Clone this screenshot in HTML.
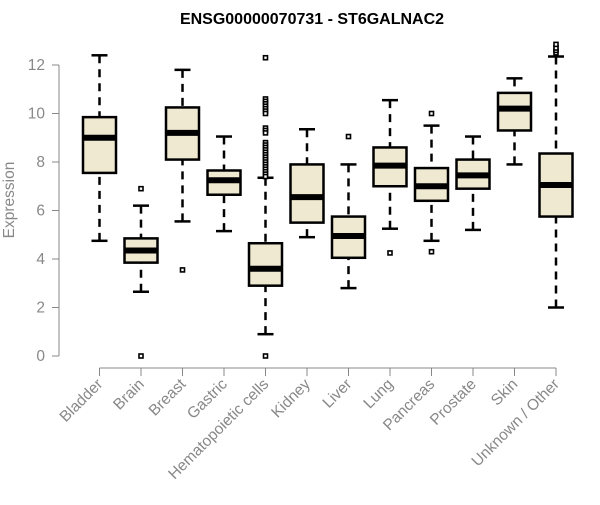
<!DOCTYPE html>
<html><head><meta charset="utf-8"><style>
body{margin:0;background:#fff}
svg text{font-family:"Liberation Sans",sans-serif}
</style></head><body>
<svg id="chart" width="600" height="500" xmlns="http://www.w3.org/2000/svg">
<text x="312" y="24" text-anchor="middle" font-weight="bold" font-size="16">ENSG00000070731 - ST6GALNAC2</text>
<text transform="translate(14,200) rotate(-90)" text-anchor="middle" font-size="15.5" fill="#888">Expression</text>
<g id="axes"></g><g id="plot"></g>
</svg>
<script>
const categories=["Bladder","Brain","Breast","Gastric","Hematopoietic cells","Kidney","Liver","Lung","Pancreas","Prostate","Skin","Unknown / Other"];
const whiskerLow=[4.75,2.65,5.55,5.15,0.9,4.9,2.8,5.25,4.75,5.2,7.9,2.0];
const q1=[7.55,3.85,8.1,6.65,2.9,5.5,4.05,7.0,6.4,6.9,9.3,5.75];
const medians=[9.0,4.35,9.2,7.25,3.6,6.55,4.95,7.85,7.0,7.45,10.2,7.05];
const q3=[9.85,4.85,10.25,7.65,4.65,7.9,5.75,8.6,7.75,8.1,10.85,8.35];
const whiskerHigh=[12.4,6.2,11.8,9.05,7.35,9.35,7.9,10.55,9.5,9.05,11.45,12.35];
const outliers=[[],[6.9,0],[3.55],[],[0,12.3,10.6,10.5,10.4,10.3,10.2,10.1,10.0,9.4,9.3,9.2,8.8,8.7,8.6,8.5,8.4,8.3,8.2,8.1,8.0,7.9,7.8,7.7,7.6,7.5,7.4],[],[9.05],[4.25],[10.0,4.3],[],[],[12.5,12.6,12.7,12.85]];
const yTicks=[0,2,4,6,8,10,12];
const NS="http://www.w3.org/2000/svg";
const y=v=>356-v*24.25;
const x=i=>99.5+i*41.5;
function mk(tag,attrs,parent){const e=document.createElementNS(NS,tag);for(const k in attrs)e.setAttribute(k,attrs[k]);parent.appendChild(e);return e;}
const ax=document.getElementById('axes'),pl=document.getElementById('plot');
let l=mk('line',{x1:59,x2:59,y1:y(12),y2:y(0),stroke:'#888'},ax);


yTicks.forEach(t=>{
 const tk=mk('line',{x1:52,x2:59,y1:y(t),y2:y(t),stroke:'#888'},ax);
 
 
 const tx=mk('text',{x:45,y:y(t)+5,'text-anchor':'end','font-size':15.5,fill:'#888'},ax);
 tx.textContent=t;
 
 
});
l=mk('line',{x1:x(0),x2:x(categories.length-1),y1:368,y2:368,stroke:'#888'},ax);


categories.forEach((c,i)=>{
 const cx=x(i);
 const tk=mk('line',{x1:cx,x2:cx,y1:368,y2:376,stroke:'#888'},ax);
 
 
 const tx=mk('text',{x:cx+4,y:385,'text-anchor':'end','font-size':15.5,fill:'#888',transform:`rotate(-45 ${cx+4} 385)`},ax);
 tx.textContent=c;
 
 
 const g=mk('g',{},pl);
 
 
 mk('line',{x1:cx,x2:cx,y1:y(whiskerHigh[i]),y2:y(q3[i]),stroke:'#000','stroke-width':2.5,'stroke-dasharray':'8,6'},g);
 mk('line',{x1:cx,x2:cx,y1:y(whiskerLow[i]),y2:y(q1[i]),stroke:'#000','stroke-width':2.5,'stroke-dasharray':'8,6'},g);
 mk('line',{x1:cx-8,x2:cx+8,y1:y(whiskerHigh[i]),y2:y(whiskerHigh[i]),stroke:'#000','stroke-width':2.5},g);
 mk('line',{x1:cx-8,x2:cx+8,y1:y(whiskerLow[i]),y2:y(whiskerLow[i]),stroke:'#000','stroke-width':2.5},g);
 mk('rect',{x:cx-16.5,y:y(q3[i]),width:33,height:y(q1[i])-y(q3[i]),fill:'#efe9d1',stroke:'#000','stroke-width':2.5},g);
 mk('line',{x1:cx-16.5,x2:cx+16.5,y1:y(medians[i]),y2:y(medians[i]),stroke:'#000','stroke-width':6},g);
 outliers[i].forEach(o=>{
  const r=mk('rect',{x:cx-2,y:y(o)-2,width:4,height:4,fill:'#fff',stroke:'#000','stroke-width':1.6},g);
  
  
 });
});
</script>
</body></html>
